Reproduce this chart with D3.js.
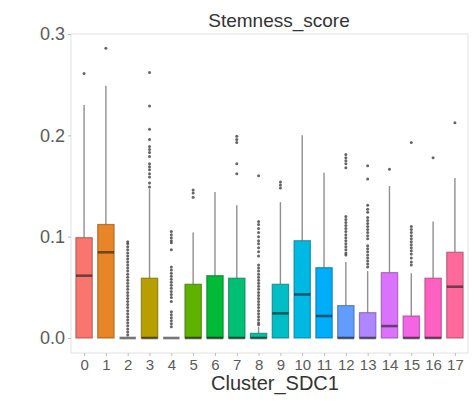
<!DOCTYPE html>
<html>
<head>
<meta charset="utf-8">
<script src="https://cdn.jsdelivr.net/npm/d3@7"></script>
<style>
  body { margin: 0; background: #fff; }
  text { font-family: "Liberation Sans", Arial, sans-serif; }
</style>
</head>
<body>
<div id="chart"></div>
<script>
// Kluster och boxplot-statistik
var clusters = ["0","1","2","3","4","5","6","7","8","9","10","11","12","13","14","15","16","17"];
var q1 = [0,0,0,0,0,0,0,0,0,0,0,0,0,0,0,0,0,0];
var median = [0.0615,0.0846,0,0,0,0,0,0,0,0.0243,0.043,0.0217,0,0,0.0118,0,0,0.0506];
var q3 = [0.099,0.112,0,0.059,0,0.053,0.0615,0.059,0.0046,0.053,0.096,0.0694,0.032,0.025,0.0645,0.0217,0.059,0.0846];
var whiskerLo = [0,0,0,0,0,0,0,0,0,0,0,0,0,0,0,0,0,0];
var whiskerHi = [0.230,0.249,0,0.147,0,0.104,0.144,0.131,0.011,0.134,0.200,0.163,0.075,0.066,0.150,0.064,0.115,0.158];
var outliers = [
    [0.261],
    [0.286],
    [0.003,0.006,0.009,0.012,0.015,0.018,0.021,0.024,0.027,0.030,0.033,0.036,0.039,0.042,0.045,0.048,0.051,0.054,0.057,0.060,0.063,0.066,0.069,0.072,0.075,0.078,0.081,0.084,0.087,0.090,0.093,0.095],
    [0.262,0.229,0.206,0.196,0.189,0.186,0.183,0.179,0.172,0.169,0.166,0.162,0.159,0.153,0.149],
    [0.105,0.102,0.099,0.096,0.094,0.087,0.070,0.067,0.064,0.061,0.058,0.055,0.052,0.049,0.046,0.043,0.040,0.036,0.026,0.023,0.020,0.017,0.014,0.011],
    [0.146,0.143,0.139],
    [],
    [0.199,0.196,0.193,0.172,0.162],
    [0.160,0.115,0.112,0.108,0.104,0.100,0.096,0.093,0.089,0.085,0.081,0.072,0.069,0.066,0.063,0.060,0.057,0.054,0.051,0.048,0.045,0.042,0.039,0.036,0.033,0.030,0.027,0.024,0.021,0.018,0.015,0.013],
    [0.154,0.151,0.148],
    [],
    [],
    [0.181,0.178,0.175,0.172,0.168,0.120,0.117,0.114,0.111,0.108,0.105,0.102,0.099,0.096,0.093,0.090,0.087,0.084,0.082],
    [0.170,0.157,0.131,0.127,0.124,0.119,0.116,0.113,0.110,0.107,0.104,0.101,0.098,0.091,0.088,0.085,0.082,0.079,0.076,0.073,0.070],
    [0.1665],
    [0.193,0.110,0.107,0.104,0.101,0.098,0.095,0.092,0.089,0.086,0.083,0.079,0.075,0.072],
    [0.178],
    [0.2125]
];
var yTicks = [0.0, 0.1, 0.2, 0.3];

// ggplot-liknande hue-palett (polarLUV -> sRGB)
function hue(h, c, l) {
    var hr = h * Math.PI / 180, u = c * Math.cos(hr), v = c * Math.sin(hr);
    var Y = Math.pow((l + 16) / 116, 3);
    var Xn = 0.95047, Yn = 1, Zn = 1.08883;
    var d = Xn + 15 * Yn + 3 * Zn;
    var up = u / (13 * l) + 4 * Xn / d, vp = v / (13 * l) + 9 * Yn / d;
    var X = 9 * Y * up / (4 * vp), Z = Y * (12 - 3 * up - 20 * vp) / (4 * vp);
    var rgb = [
        3.2404542 * X - 1.5371385 * Y - 0.4985314 * Z,
        -0.9692660 * X + 1.8760108 * Y + 0.0415560 * Z,
        0.0556434 * X - 0.2040259 * Y + 1.0572252 * Z
    ].map(function(x) {
        x = x <= 0.0031308 ? 12.92 * x : 1.055 * Math.pow(x, 1 / 2.4) - 0.055;
        return Math.round(Math.max(0, Math.min(1, x)) * 255);
    });
    return d3.rgb(rgb[0], rgb[1], rgb[2]).formatHex();
}
var n = clusters.length;
var colors = clusters.map(function(d, i) { return hue(15 + 360 * i / n, 100, 65); });

var width = 474, height = 405;
var pLeft = 71, pRight = 468, pTop = 34, pBottom = 353;

var svg = d3.select("#chart").append("svg")
    .attr("width", width).attr("height", height);

var x = d3.scalePoint().domain(clusters).range([pLeft, pRight]).padding(0.6);
var y = d3.scaleLinear().domain([-0.0148, 0.3]).range([pBottom, pTop]);
var bw = x.step() * 0.75;

// Panelram
svg.append("rect")
    .attr("x", pLeft).attr("y", pTop)
    .attr("width", pRight - pLeft).attr("height", pBottom - pTop)
    .attr("fill", "none").attr("stroke", "#e2e2e2").attr("stroke-width", 1);

// Axlar
var yAxis = svg.append("g")
    .attr("transform", "translate(" + pLeft + ",0)")
    .call(d3.axisLeft(y).tickValues(yTicks).tickFormat(d3.format(".1f")).tickSize(3).tickPadding(3));
yAxis.select(".domain").remove();
yAxis.selectAll("line").attr("stroke", "#bdbdbd");
yAxis.selectAll("text").attr("fill", "#5a5a5a").style("font-size", "18px");

var xAxis = svg.append("g")
    .attr("transform", "translate(0," + pBottom + ")")
    .call(d3.axisBottom(x).tickSize(3).tickPadding(3));
xAxis.select(".domain").remove();
xAxis.selectAll("line").attr("stroke", "#bdbdbd");
xAxis.selectAll("text").attr("fill", "#5a5a5a").style("font-size", "15px");

var rows = clusters.map(function(c, i) {
    return {c: c, q1: q1[i], med: median[i], q3: q3[i], lo: whiskerLo[i], hi: whiskerHi[i], out: outliers[i], col: colors[i]};
});

var g = svg.selectAll("g.box").data(rows).enter().append("g").attr("class", "box");

// Morrhår
g.append("line")
    .attr("x1", d => x(d.c)).attr("x2", d => x(d.c))
    .attr("y1", d => y(d.q3)).attr("y2", d => y(d.hi))
    .attr("stroke", "#8f8f8f").attr("stroke-width", 1.4);

// Boxar
g.append("rect")
    .attr("x", d => x(d.c) - bw / 2).attr("width", bw)
    .attr("y", d => y(d.q3)).attr("height", d => Math.max(0, y(d.q1) - y(d.q3)))
    .attr("fill", d => d.col)
    .attr("stroke", d => d3.color(d.col).darker(1.2))
    .attr("stroke-opacity", 0.7)
    .attr("stroke-width", 1.2);

// Median
g.append("line")
    .attr("x1", d => x(d.c) - bw / 2).attr("x2", d => x(d.c) + bw / 2)
    .attr("y1", d => y(d.med)).attr("y2", d => y(d.med))
    .attr("stroke", "#1a1a1a").attr("stroke-opacity", 0.6).attr("stroke-width", 2.6);

// Extremvärden
g.selectAll("circle")
    .data(d => d.out.map(v => ({c: d.c, v: v})))
    .enter().append("circle")
    .attr("cx", d => x(d.c)).attr("cy", d => y(d.v))
    .attr("r", 1.5)
    .attr("fill", "#333").attr("fill-opacity", 0.75);

// Titel och axeltitel
svg.append("text")
    .attr("x", 279).attr("y", 27)
    .attr("text-anchor", "middle")
    .attr("fill", "#333").style("font-size", "19px")
    .text("Stemness_score");

svg.append("text")
    .attr("x", 275).attr("y", 390)
    .attr("text-anchor", "middle")
    .attr("fill", "#333").style("font-size", "20px")
    .text("Cluster_SDC1");
</script>
</body>
</html>
